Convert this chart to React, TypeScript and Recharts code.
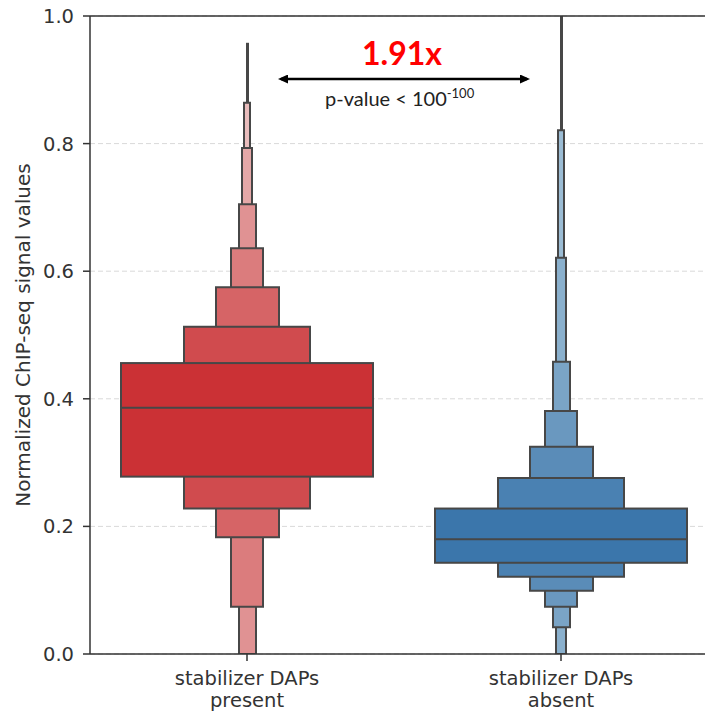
import { ComposedChart, Bar, XAxis, YAxis, CartesianGrid, ReferenceLine, Cell } from 'recharts';

// letter-value boxes, innermost (widest) first
const categories = ['stabilizer DAPs\npresent', 'stabilizer DAPs\nabsent'];
const presentLower = [0.278, 0.228, 0.183, 0.074, 0.0, 0.0, 0.0];
const presentUpper = [0.456, 0.513, 0.575, 0.636, 0.705, 0.793, 0.864];
const absentLower = [0.143, 0.121, 0.099, 0.074, 0.042, 0.0, 0.0];
const absentUpper = [0.228, 0.276, 0.325, 0.381, 0.458, 0.621, 0.821];
const medians = [0.386, 0.18];
const maxima = [0.958, 1.0];
const yTicks = [0, 0.2, 0.4, 0.6, 0.8, 1.0];

const levelWidths = [252, 126, 63, 32, 17, 10, 6];
const redShades = ['#cb3135', '#d04b4e', '#d66466', '#db7c7d', '#e09293', '#e5a8a8', '#e9bcbc'];
const blueShades = ['#3b76ab', '#4a81b2', '#5a8cb8', '#6a98bf', '#7aa4c6', '#8ab0cd', '#9bbcd4'];
const palettes = [redShades, blueShades];
const edge = '#474747';
const font = "'DejaVu Sans', sans-serif";

const lowers = [presentLower, absentLower];
const uppers = [presentUpper, absentUpper];

const data = categories.map((group, i) => {
  const row: Record<string, unknown> = { group, median: medians[i] };
  levelWidths.forEach((_, k) => {
    row['l' + k] = [lowers[i][k], uppers[i][k]];
  });
  row.whisker = [uppers[i][levelWidths.length - 1], maxima[i]];
  return row;
});

const levels = levelWidths.map((_, k) => k).reverse();

function CategoryTick(props: any) {
  const { x, y, payload } = props;
  const lines = String(payload.value).split('\n');
  return (
    <text x={x} y={y} textAnchor="middle" style={{ fontFamily: font, fontSize: 19.5 }} fill="#333">
      {lines.map((line, i) => (
        <tspan key={i} x={x} dy={i === 0 ? 22 : 22}>{line}</tspan>
      ))}
    </text>
  );
}

function MedianBox(props: any) {
  const { x, y, width, height, fill, payload } = props;
  const [lo, hi] = payload.l0 as number[];
  const my = y + (height * (hi - payload.median)) / (hi - lo);
  return (
    <g>
      <rect x={x} y={y} width={width} height={height} fill={fill} stroke={edge} strokeWidth={2} />
      <line x1={x} x2={x + width} y1={my} y2={my} stroke={edge} strokeWidth={2} />
    </g>
  );
}

export default function App() {
  return (
    <div style={{ position: 'relative', width: 720, height: 713, margin: '-8px 0 0 -8px', fontFamily: font }}>
      <ComposedChart width={720} height={713} data={data} margin={{ top: 16, right: 2, bottom: 0, left: 0 }}>
        <CartesianGrid vertical={false} stroke="#d9d9d9" strokeDasharray="5 3" />
        {levels.map((k) => (
          <XAxis key={k} xAxisId={'l' + k} dataKey="group" orientation="top" height={0} hide />
        ))}
        <XAxis xAxisId="w" dataKey="group" orientation="top" height={0} hide />
        <XAxis
          xAxisId="main"
          dataKey="group"
          height={59}
          tick={<CategoryTick />}
          tickSize={7}
          tickLine={{ stroke: '#333', strokeWidth: 1.5 }}
          axisLine={{ stroke: '#333', strokeWidth: 1.5 }}
          interval={0}
        />
        <YAxis
          domain={[0, 1]}
          ticks={yTicks}
          allowDataOverflow
          width={90}
          tickSize={7}
          tickMargin={9}
          tickFormatter={(v: number) => v.toFixed(1)}
          tick={{ fontSize: 19.5, fill: '#333', style: { fontFamily: font, fontSize: 19.5 } }}
          tickLine={{ stroke: '#333', strokeWidth: 1.5 }}
          axisLine={{ stroke: '#333', strokeWidth: 1.5 }}
          label={{
            value: 'Normalized ChIP-seq signal values',
            angle: -90,
            position: 'insideLeft',
            offset: 23,
            style: { textAnchor: 'middle', fontFamily: font, fontSize: 20, fill: '#333' },
          }}
        />
        <ReferenceLine xAxisId="main" y={1} stroke="#333" strokeWidth={1.5} />
        <Bar xAxisId="w" dataKey="whisker" barSize={3} fill={edge} isAnimationActive={false} />
        {levels.map((k) => (
          <Bar
            key={k}
            xAxisId={'l' + k}
            dataKey={'l' + k}
            barSize={levelWidths[k]}
            stroke={edge}
            strokeWidth={2}
            isAnimationActive={false}
            shape={k === 0 ? <MedianBox /> : undefined}
          >
            {data.map((_, i) => (
              <Cell key={i} fill={palettes[i][k]} />
            ))}
          </Bar>
        ))}
      </ComposedChart>
      <svg width={720} height={713} style={{ position: 'absolute', left: 0, top: 0, pointerEvents: 'none' }}>
        <defs>
          <marker id="head" markerWidth="10" markerHeight="9" refX="7" refY="4.5" orient="auto-start-reverse" markerUnits="userSpaceOnUse">
            <path d="M0,0 L10,4.5 L0,9 z" fill="#000" />
          </marker>
        </defs>
        <text x={402} y={65} textAnchor="middle" fontFamily="Lato, sans-serif" fontWeight="bold" fontSize={32} fill="#ff0000">
          1.91x
        </text>
        <line x1={281} x2={527} y1={79} y2={79} stroke="#000" strokeWidth={2.5} markerStart="url(#head)" markerEnd="url(#head)" />
        <text x={325} y={106} fontFamily="Lato, sans-serif" fontSize={20} fill="#222">
          p-value &lt; 100<tspan dy={-8} fontSize={13}>-100</tspan>
        </text>
      </svg>
    </div>
  );
}
